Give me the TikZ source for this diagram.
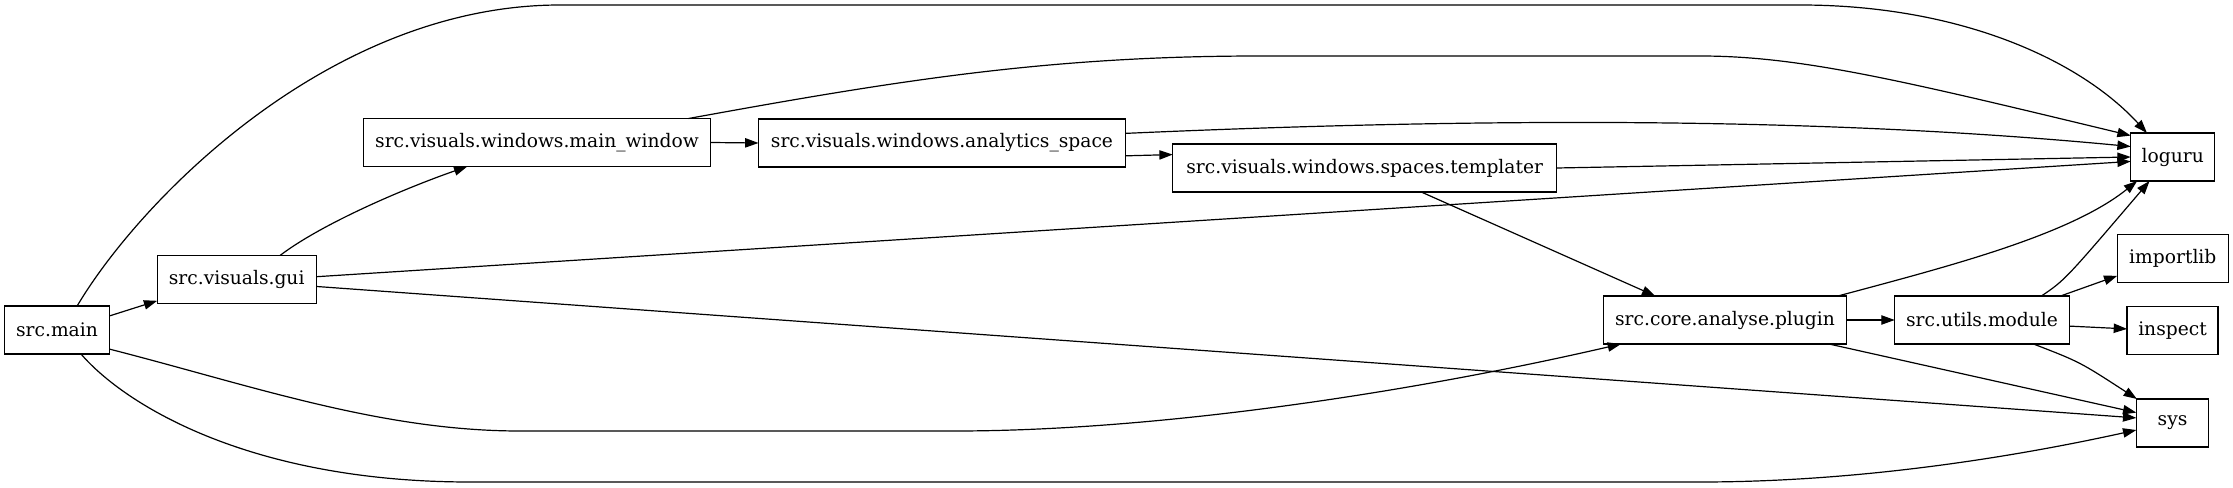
\documentclass[tikz,border=0pt]{standalone}
\usepackage{fontspec}
\setmainfont{DejaVu Serif}
\usetikzlibrary{arrows.meta}
\begin{document}
\begin{tikzpicture}[x=0.75pt,y=-0.75pt,
  mod/.style={draw=black,line width=0.9pt,rectangle,inner sep=0pt,outer sep=0pt,minimum height=36pt,font=\fontsize{14pt}{17pt}\selectfont},
  edge/.style={draw=black,line width=0.9pt,-{Triangle[length=10pt,width=7pt]}}]
\useasboundingbox (0,0) rectangle (2233,488);
% nodes
\node[mod,minimum width=78.75pt]  (main) at (57,330)     {src.main};
\node[mod,minimum width=119.25pt] (gui)  at (236.7,279.5) {src.visuals.gui};
\node[mod,minimum width=260.25pt] (mw)   at (537,142.5)  {src.visuals.windows.main\_window};
\node[mod,minimum width=275.25pt] (an)   at (942,143)    {src.visuals.windows.analytics\_space};
\node[mod,minimum width=288pt]    (tp)   at (1364.7,168) {src.visuals.windows.spaces.templater};
\node[mod,minimum width=182.5pt]  (pl)   at (1725,320)   {src.core.analyse.plugin};
\node[mod,minimum width=131pt]    (um)   at (1982,320)   {src.utils.module};
\node[mod,minimum width=63pt]     (lg)   at (2172.7,157) {loguru};
\node[mod,minimum width=83.25pt]  (il)   at (2172.8,258.8) {importlib};
\node[mod,minimum width=68.25pt]  (in)   at (2172.5,330.5) {inspect};
\node[mod,minimum width=54.3pt]   (sys)  at (2172.5,423) {sys};
% edges
\draw[edge] (main.15.9) -- (gui.195.6);
\draw[edge] (main.50.6) .. controls (140,200) and (330,5) .. (560,5) -- (1800,5)
  .. controls (1960,5) and (2080,60) .. (lg.137.7);
\draw[edge] (main.340.8) .. controls (250,385) and (380,431) .. (520,431) -- (955,431)
  .. controls (1150,431) and (1400,395) .. (pl.193.3);
\draw[edge] (main.315.8) .. controls (125,405) and (250,482) .. (470,482) -- (1700,482)
  .. controls (1850,482) and (2000,460) .. (sys.191);
\draw[edge] (gui.29.5) .. controls (320,225) and (400,190) .. (mw.199.4);
\draw[edge] (gui.2.7) -- (lg.186.4);
\draw[edge] (gui.355.3) -- (sys.172);
\draw[edge] (mw.east) -- (an.west);
\draw[edge] (mw.9.9) .. controls (900,80) and (1050,56) .. (1260,56) -- (1700,56)
  .. controls (1800,56) and (1900,80) .. (lg.153.4);
\draw[edge] (an.356.7) -- (tp.176.6);
\draw[edge] (an.3.0) .. controls (1450,119) and (1800,115) .. (lg.166.2);
\draw[edge] (tp.0.9) -- (lg.180);
\draw[edge] (tp.337.7) -- (pl.161.8);
\draw[edge] (pl.east) -- (um.west);
\draw[edge] (pl.12.9) .. controls (1950,266) and (2070,235) .. (lg.214.5);
\draw[edge] (pl.347.3) -- (sys.164.4);
\draw[edge] (um.22.5) .. controls (2065,280) .. (lg.226.6);
\draw[edge] (um.17.5) -- (il.197.7);
\draw[edge] (um.356.7) -- (in.178.5);
\draw[edge] (um.335.4) .. controls (2080,362) .. (sys.146.6);
\end{tikzpicture}
\end{document}
